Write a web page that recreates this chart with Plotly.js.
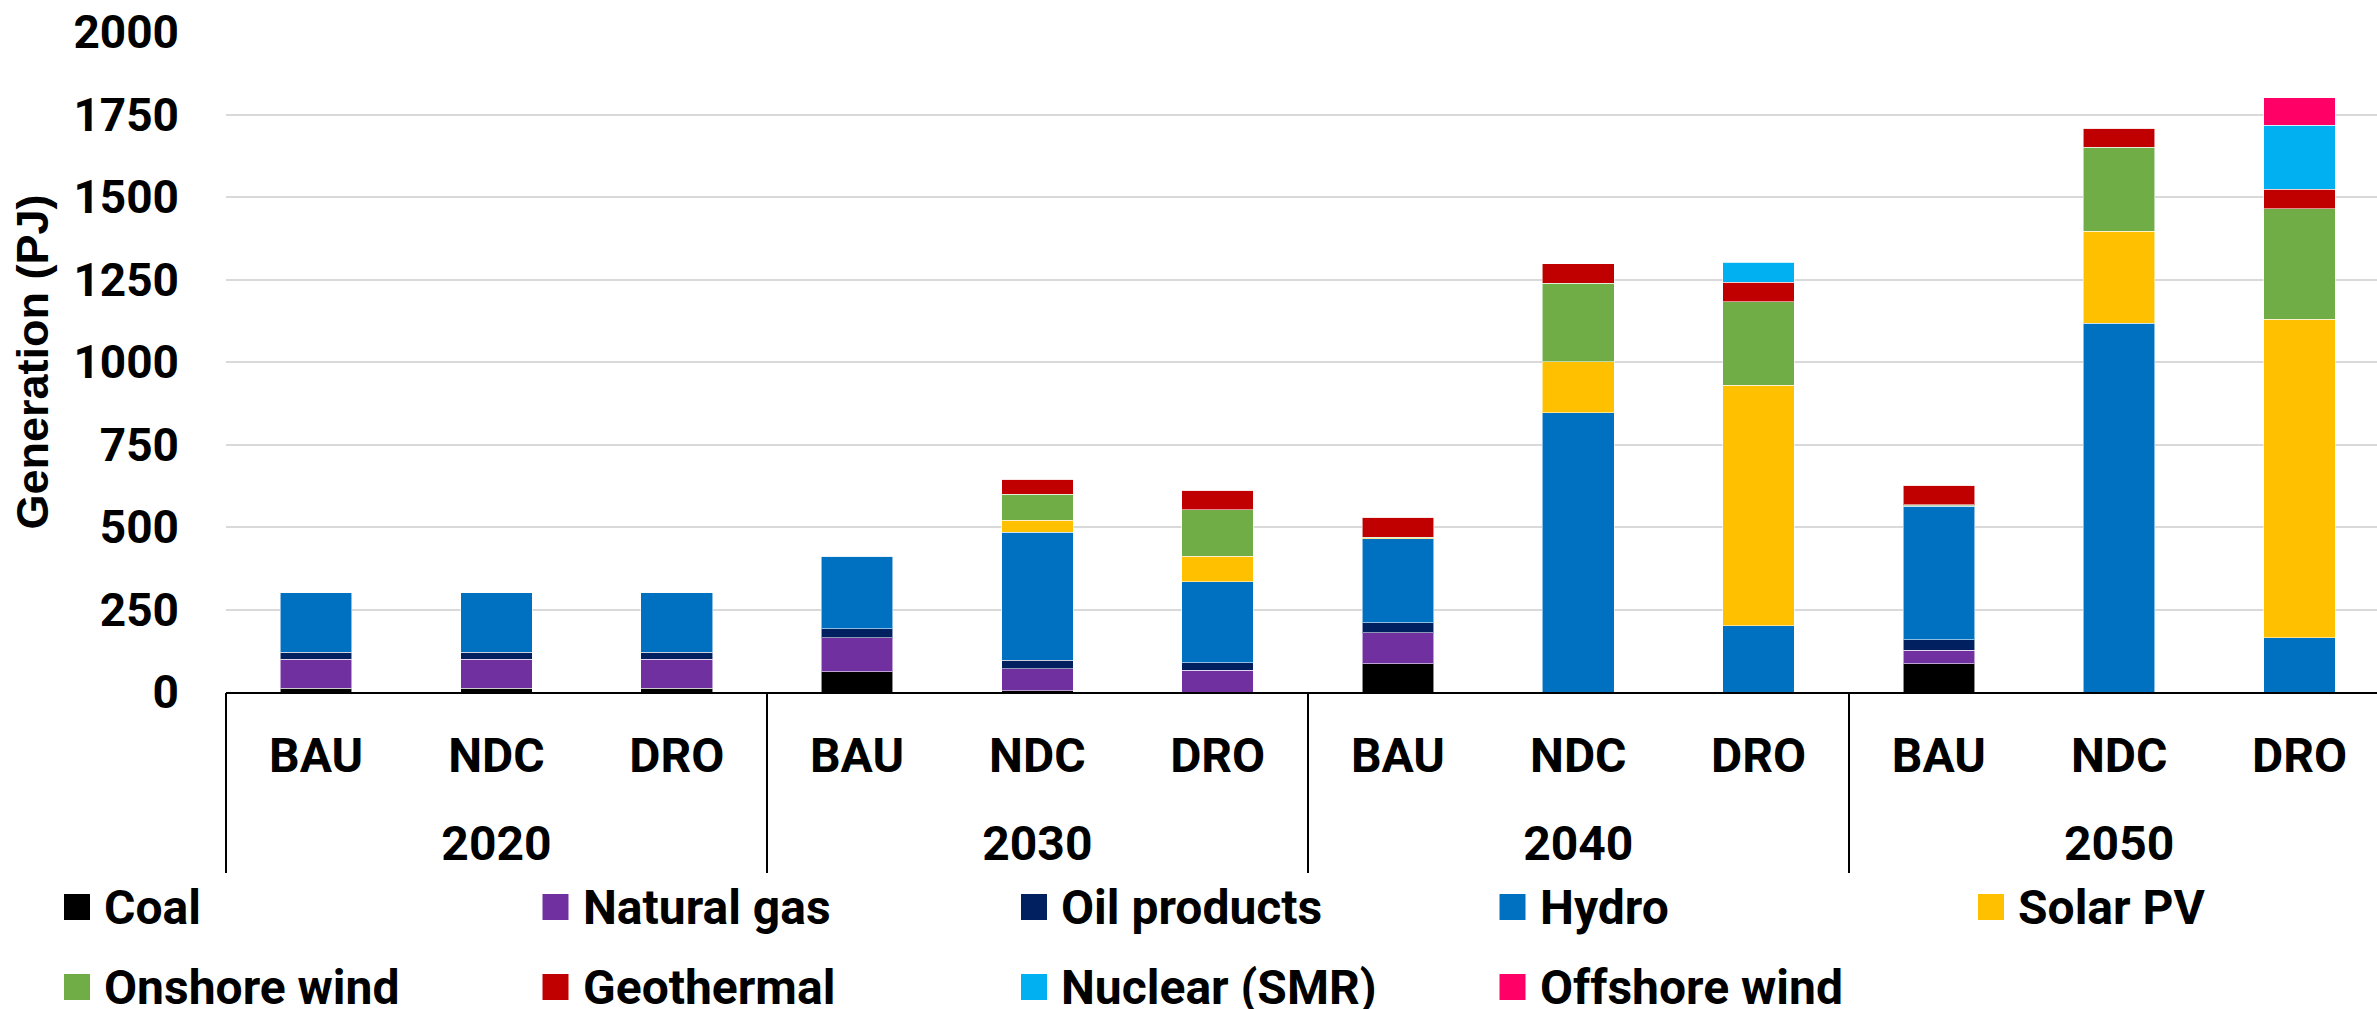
<!DOCTYPE html>
<html>
<head>
<meta charset="utf-8">
<script src="https://cdn.plot.ly/plotly-3.0.1.min.js"></script>
<style>
  html, body { margin: 0; padding: 0; background: #fff; overflow: hidden; }
  #chart { width: 2377px; height: 1009px; }
</style>
</head>
<body>
<div id="chart"></div>
<script>
// ---- Data ----
const years     = ["2020","2020","2020","2030","2030","2030","2040","2040","2040","2050","2050","2050"];
const scenarios = ["BAU","NDC","DRO","BAU","NDC","DRO","BAU","NDC","DRO","BAU","NDC","DRO"];

const seriesNames  = ["Coal","Natural gas","Oil products","Hydro","Solar PV","Onshore wind","Geothermal","Nuclear (SMR)","Offshore wind"];
const seriesColors = ["#000000","#7030A0","#002060","#0070C0","#FFC000","#70AD47","#C00000","#00B0F0","#FF0066"];

const coal        = [11, 11, 11, 61,  4,   0,  85,   0,   0,  85,    0,   0];
const naturalGas  = [89, 89, 89, 104, 66,  66, 95,   0,   0,  42,    0,   0];
const oilProducts = [20, 20, 20, 26,  26,  23, 30,   0,   0,  31,    0,   0];
const hydro       = [181,181,181,220, 388, 245,255,  846, 201,405,  1118, 165];
const solarPV     = [1,  1,  1,  0,   37,  77, 2,    155, 729, 2,    278, 964];
const onshoreWind = [1,  1,  1,  2,   79,  142,2,    238, 253, 2,    255, 336];
const geothermal  = [0,  0,  0,  0,   45,  59, 60,   59,  59,  60,   58,  58];
const nuclearSMR  = [0,  0,  0,  0,   0,   0,  0,    0,   60,  0,    0,   194];
const offshoreWind= [0,  0,  0,  0,   0,   0,  0,    0,   0,   0,    0,   84];

const seriesValues = [coal, naturalGas, oilProducts, hydro, solarPV, onshoreWind, geothermal, nuclearSMR, offshoreWind];

const yTickVals = [0,250,500,750,1000,1250,1500,1750,2000];

// ---- Derived category positions ----
const xIndex = scenarios.map((_, i) => i);
const yearGroups = [...new Set(years)];
const yearCenters = yearGroups.map(y => {
  const idx = xIndex.filter(i => years[i] === y);
  return (idx[0] + idx[idx.length - 1]) / 2;
});
const groupBounds = [-0.5];
xIndex.forEach(i => { if (i > 0 && years[i] !== years[i - 1]) groupBounds.push(i - 0.5); });
groupBounds.push(xIndex.length - 0.5);

// ---- Geometry ----
const W = 2377, H = 1009;
const mL = 226, mR = 0, mT = 32, mB = 317;
const plotW = W - mL - mR, plotH = H - mT - mB;
const catW = 180.3;
const xRange = [-0.5, -0.5 + plotW / catW];
const px2paperX = p => (p - mL) / plotW;
const px2paperY = p => (H - mB - p) / plotH;

const boldFont  = {family: "Roboto, 'Liberation Sans', Arial, sans-serif", size: 46, color: "#000", weight: 700};
const boldFontL = {family: "Roboto, 'Liberation Sans', Arial, sans-serif", size: 48, color: "#000", weight: 700};

const traces = seriesNames.map((name, i) => ({
  type: "bar",
  name: name,
  x: xIndex,
  y: seriesValues[i],
  width: 0.397,
  marker: {color: seriesColors[i], line: {color: "rgba(255,255,255,0.55)", width: 1}},
  showlegend: false,
  hoverinfo: "name+y"
}));
// empty helper traces so that the year-label axis and the divider axis are drawn
["x2", "x3"].forEach(ax => traces.push({
  type: "scatter", mode: "markers", x: [null], y: [null],
  xaxis: ax, yaxis: "y", showlegend: false, hoverinfo: "skip"
}));

// Legend built from the series arrays
const shapes = [];
const annotations = [];
const colStep = 478.5, rowStep = 80;
seriesNames.forEach((name, i) => {
  const row = Math.floor(i / 5), col = i % 5;
  const sx = 64 + col * colStep, sy = 894 + row * rowStep;
  shapes.push({
    type: "rect", xref: "paper", yref: "paper",
    x0: px2paperX(sx), x1: px2paperX(sx + 26),
    y0: px2paperY(sy), y1: px2paperY(sy + 26),
    fillcolor: seriesColors[i], line: {width: 0}
  });
  annotations.push({
    xref: "paper", yref: "paper",
    x: px2paperX(sx + 38), y: px2paperY(sy + 13),
    xanchor: "left", yanchor: "middle",
    text: name, showarrow: false,
    font: boldFontL
  });
});

const layout = {
  width: W, height: H,
  margin: {l: mL, r: mR, t: mT, b: mB},
  paper_bgcolor: "#fff", plot_bgcolor: "#fff",
  barmode: "stack",
  showlegend: false,
  xaxis: {
    type: "linear",
    range: xRange,
    tickmode: "array", tickvals: xIndex, ticktext: scenarios,
    showline: true, linecolor: "#000", linewidth: 2,
    ticks: "", ticklabelstandoff: 20,
    tickfont: boldFontL,
    showgrid: false, zeroline: false,
    automargin: false, fixedrange: true
  },
  xaxis2: {
    type: "linear", overlaying: "x", anchor: "y", side: "bottom",
    range: xRange,
    tickmode: "array", tickvals: yearCenters, ticktext: yearGroups,
    showline: false, ticks: "", ticklabelstandoff: 119,
    tickfont: boldFontL,
    showgrid: false, zeroline: false, automargin: false
  },
  xaxis3: {
    type: "linear", overlaying: "x", anchor: "y", side: "bottom",
    range: xRange,
    tickmode: "array", tickvals: groupBounds,
    showline: false, showticklabels: false,
    ticks: "outside", ticklen: 180, tickwidth: 2, tickcolor: "#000",
    showgrid: false, zeroline: false, automargin: false
  },
  yaxis: {
    range: [0, 2000],
    tickvals: yTickVals,
    ticktext: yTickVals.map(String),
    showgrid: true, gridcolor: "#d9d9d9", gridwidth: 2,
    zeroline: false, showline: false,
    ticks: "",
    ticklabelstandoff: 46,
    tickfont: boldFont,
    automargin: false,
    title: {text: "Generation (PJ)", font: {family: "'Liberation Sans', Arial, sans-serif", size: 45, color: "#000", weight: 700}, standoff: 10}
  },
  shapes: shapes,
  annotations: annotations,
  font: {family: "Roboto, sans-serif", color: "#000"}
};

Plotly.newPlot("chart", traces, layout, {displayModeBar: false, staticPlot: true});
</script>
</body>
</html>
